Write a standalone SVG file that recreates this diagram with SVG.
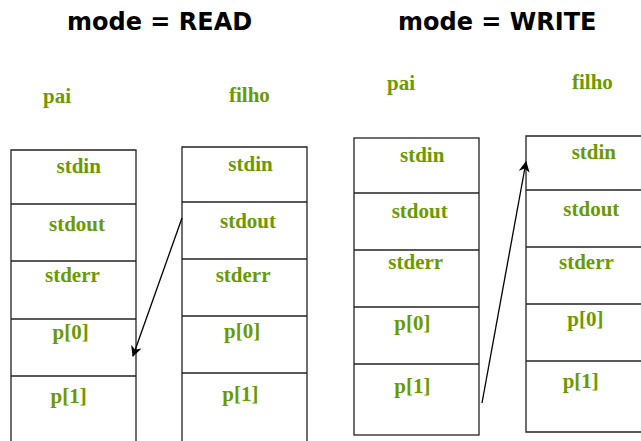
<svg xmlns="http://www.w3.org/2000/svg" width="641" height="441" viewBox="0 0 641 441">
<style>
.title{font-family:"DejaVu Sans",Verdana,sans-serif;font-weight:bold;font-size:24px;fill:#000}
.lbl{font-family:"Liberation Serif","Times New Roman",serif;font-weight:bold;font-size:21px;fill:#6a9a00}
.box{fill:#fff;stroke:#222;stroke-width:1.3}
.div{stroke:#222;stroke-width:1.3}
.conn{stroke:#000;stroke-width:1.3;fill:none}
</style>
<defs>
<marker id="ah" viewBox="0 0 10 10" refX="9" refY="5" markerWidth="11" markerHeight="11" markerUnits="userSpaceOnUse" orient="auto">
<path d="M0,0 L10,5 L0,10 L3,5 z" fill="#000"/>
</marker>
</defs>
<rect width="641" height="441" fill="#fff"/>
<text class="title" x="67" y="30">mode = READ</text>
<text class="title" x="398" y="30">mode = WRITE</text>

<g id="pai-read">
<text class="lbl" x="43" y="103">pai</text>
<path class="box" d="M11,445 V150 H136 V445"/>
<line class="div" x1="11" y1="204" x2="136" y2="204"/>
<line class="div" x1="11" y1="261" x2="136" y2="261"/>
<line class="div" x1="11" y1="319" x2="136" y2="319"/>
<line class="div" x1="11" y1="376" x2="136" y2="376"/>
<text class="lbl" x="56.5" y="173">stdin</text>
<text class="lbl" x="49" y="230.5">stdout</text>
<text class="lbl" x="45" y="282">stderr</text>
<text class="lbl" x="52.5" y="339">p[0]</text>
<text class="lbl" x="50.5" y="403">p[1]</text>
</g>

<g id="filho-read">
<text class="lbl" x="229" y="102">filho</text>
<path class="box" d="M182,445 V147 H307 V445"/>
<line class="div" x1="182" y1="202" x2="307" y2="202"/>
<line class="div" x1="182" y1="259" x2="307" y2="259"/>
<line class="div" x1="182" y1="316" x2="307" y2="316"/>
<line class="div" x1="182" y1="373" x2="307" y2="373"/>
<text class="lbl" x="228.3" y="170.5">stdin</text>
<text class="lbl" x="220" y="227.5">stdout</text>
<text class="lbl" x="215.7" y="281.5">stderr</text>
<text class="lbl" x="224" y="338">p[0]</text>
<text class="lbl" x="222.3" y="400.5">p[1]</text>
</g>

<g id="pai-write">
<text class="lbl" x="387" y="90">pai</text>
<rect class="box" x="354" y="138" width="125" height="297"/>
<line class="div" x1="354" y1="193" x2="479" y2="193"/>
<line class="div" x1="354" y1="250" x2="479" y2="250"/>
<line class="div" x1="354" y1="307" x2="479" y2="307"/>
<line class="div" x1="354" y1="364" x2="479" y2="364"/>
<text class="lbl" x="400" y="161.5">stdin</text>
<text class="lbl" x="391.7" y="218.3">stdout</text>
<text class="lbl" x="388.3" y="269.3">stderr</text>
<text class="lbl" x="394.3" y="330">p[0]</text>
<text class="lbl" x="394.3" y="392.5">p[1]</text>
</g>

<g id="filho-write">
<text class="lbl" x="572" y="89">filho</text>
<path class="box" d="M645,136 H526 V432 H645"/>
<line class="div" x1="526" y1="190" x2="645" y2="190"/>
<line class="div" x1="526" y1="247" x2="645" y2="247"/>
<line class="div" x1="526" y1="304" x2="645" y2="304"/>
<line class="div" x1="526" y1="361" x2="645" y2="361"/>
<text class="lbl" x="571.7" y="159.3">stdin</text>
<text class="lbl" x="563.3" y="215.7">stdout</text>
<text class="lbl" x="559" y="269.3">stderr</text>
<text class="lbl" x="567.3" y="326">p[0]</text>
<text class="lbl" x="562.7" y="388.3">p[1]</text>
</g>

<g id="connectors">
<line class="conn" x1="182" y1="218" x2="133" y2="356" marker-end="url(#ah)"/>
<line class="conn" x1="482" y1="403" x2="526" y2="162" marker-end="url(#ah)"/>
</g>
</svg>
